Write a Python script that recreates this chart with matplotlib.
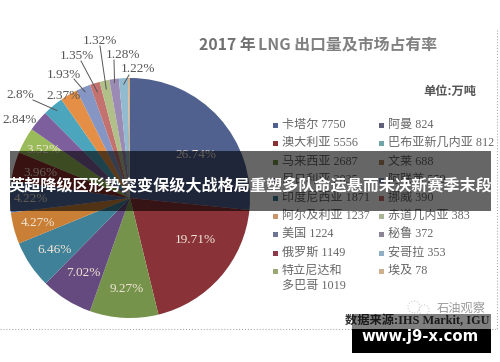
import matplotlib
matplotlib.use('Agg')
import numpy as np
from matplotlib import pyplot as plt
from matplotlib.patches import Rectangle, Circle

W, H = 500, 362
SERIF_CJK = ['Liberation Serif', 'Noto Sans CJK SC', 'DejaVu Sans']
SANS_CJK = ['Noto Sans CJK SC', 'DejaVu Sans']

# market share, clockwise from the top
shares = [26.74, 19.71, 9.27, 7.02, 6.46, 4.27, 4.22, 3.96, 3.52,
          2.84, 2.8, 2.37, 1.93, 1.35, 1.32, 1.28, 1.22, 0.27]
share_labels = ['26.74%', '19.71%', '9.27%', '7.02%', '6.46%', '4.27%', '4.22%', '3.96%', '3.52%',
                '2.84%', '2.8%', '2.37%', '1.93%', '1.35%', '1.32%', '1.28%', '1.22%', '']
colors = ['#50608f', '#893339', '#75934a', '#644a7e', '#3f8198', '#c97f36',
          '#4f6a9c', '#8e2f2c', '#9abb59', '#7d5f9e', '#4ba5bd', '#e48f45',
          '#8596c4', '#c4726f', '#b1c088', '#9a8ab4', '#93bbd0', '#d9b28a']

legend_left = ['卡塔尔 7750', '澳大利亚 5556', '马来西亚 2687', '尼日利亚 2035', '印度尼西亚 1871',
               '阿尔及利亚 1237', '美国 1224', '俄罗斯 1149', '特立尼达和\n多巴哥 1019']
legend_right = ['阿曼 824', '巴布亚新几内亚 812', '文莱 688', '阿联酋 559', '挪威 390',
                '赤道几内亚 383', '秘鲁 372', '安哥拉 353', '埃及 78']
colors_left = ['#50608f', '#893339', '#75934a', '#644a7e', '#3f8198', '#c9956a', '#6f7494', '#8e3a4a', '#9aa873']
colors_right = ['#60607a', '#6fa5a5', '#b08a60', '#8596c4', '#c4726f', '#a9b596', '#8a8494', '#8fb0c4', '#cdb08f']

# hand placed labels, in pixels from the top left
inner_pos = {0: (196, 155), 1: (195, 240), 2: (127, 289), 3: (83, 273), 4: (55, 250),
             5: (38, 223), 6: (31, 199), 7: (40, 173), 8: (43, 150)}
outer_pos = {9: (20, 120), 10: (20, 95), 11: (64, 96), 12: (64, 75), 13: (77, 56),
             14: (100, 41), 15: (123, 55), 16: (138, 69)}
# where a leader starts (offset from its label) and how far into the wedge it runs
leader_start = {10: (13, 5), 12: (10, 4), 13: (4, 5), 14: (0, 5), 15: (-9, 5), 16: (-9, 6)}
leader_r = {10: 0.95, 12: 0.96, 13: 0.925, 14: 0.93, 15: 0.97, 16: 0.95}


def py(y):
    return H - y


fig = plt.figure(figsize=(W / 100, H / 100), dpi=100)
ax = fig.add_axes([0, 0, 1, 1])

cx, cy, r = 130, py(198), 120
wedges, _ = ax.pie(shares, colors=colors, startangle=90, counterclock=False,
                   center=(cx, cy), radius=r, frame=True)
ax.set_xlim(0, W)
ax.set_ylim(0, H)
ax.set_aspect('auto')
ax.axis('off')

for i, lab in enumerate(share_labels):
    if not lab:
        continue
    if i in inner_pos:
        x, y = inner_pos[i]
        ax.text(x, py(y), lab, color='#f2e6d8', fontsize=9.5, family=SERIF_CJK, ha='center', va='center', zorder=3)
    else:
        x, y = outer_pos[i]
        ax.text(x, py(y), lab, color='#555555', fontsize=9.5, family=SERIF_CJK, ha='center', va='center', zorder=3)
        if i in leader_start:
            w = wedges[i]
            ang = np.deg2rad((w.theta1 + w.theta2) / 2)
            ex, ey = cx + leader_r[i] * r * np.cos(ang), cy + leader_r[i] * r * np.sin(ang)
            dx, dy = leader_start[i]
            ax.plot([x + dx, ex], [py(y + dy), ey], color='#555555', lw=0.7, zorder=3)

ax.text(199, py(45), '2017 年', color='#707070', fontsize=11.4, fontweight='bold', family=SANS_CJK, va='center')
ax.text(258, py(45), 'LNG 出口量及市场占有率', color='#808080', fontsize=11.4, fontweight='bold', family=SANS_CJK, va='center')
ax.text(476, py(91), '单位:万吨', color='#555555', fontsize=8.8, fontweight='bold', family=SANS_CJK, ha='right', va='center')

rows = [125, 143, 162, 180, 198, 216, 234, 253, 271]
for labels, cols, mx in [(legend_left, colors_left, 275), (legend_right, colors_right, 381)]:
    for lab, c, y in zip(labels, cols, rows):
        ax.add_patch(Rectangle((mx - 2.5, py(y) - 2.5), 5, 5, color=c, lw=0, zorder=3))
        ax.text(mx + 7, py(y), lab.split('\n')[0], color='#666666', fontsize=8.7, family=SERIF_CJK, va='center', zorder=3)
        if '\n' in lab:
            ax.text(mx + 7, py(y + 15), lab.split('\n')[1], color='#666666', fontsize=8.7, family=SERIF_CJK, va='center', zorder=3)

# little account logo and name
ax.add_patch(Circle((414, py(307)), 6, fill=False, ec='#cccccc', lw=0.8, ls=':', zorder=3))
ax.add_patch(Circle((424, py(310)), 5, fill=False, ec='#cccccc', lw=0.8, ls=':', zorder=3))
ax.text(437, py(308), '石油观察', color='#999999', fontsize=8.8, family=SANS_CJK, va='center', zorder=3)

# dotted frame of the original picture
ax.plot([0, 497, 497], [py(329), py(329), py(30)], color='#aaaaaa', lw=0.8, ls=':', zorder=3)

ax.text(345, py(321), '数据来源:IHS Markit, IGU', color='#333333', fontsize=8.8, fontweight='bold', family=SERIF_CJK, va='center', zorder=3)

# dark band and headline
ax.add_patch(Rectangle((10, py(211)), 481, 60, color='black', alpha=0.6, lw=0, zorder=4))
ax.text(250.5, py(185), '英超降级区形势突变保级大战格局重塑多队命运悬而未决新赛季末段', color='white', fontsize=11.6,
        fontweight='bold', family=SANS_CJK, ha='center', va='center', zorder=5)

# watermark box, see-through above the dotted line
ax.add_patch(Rectangle((352, py(329)), 139, 15, color='black', alpha=0.5, lw=0, zorder=4))
ax.add_patch(Rectangle((352, py(353)), 139, 24, color='black', lw=0, zorder=4))
ax.text(420.5, py(337), 'www.j9-x.com', color='white', fontsize=10.7, fontweight='bold', ha='center', va='center', zorder=5)

fig.savefig('out.png', dpi=100)
